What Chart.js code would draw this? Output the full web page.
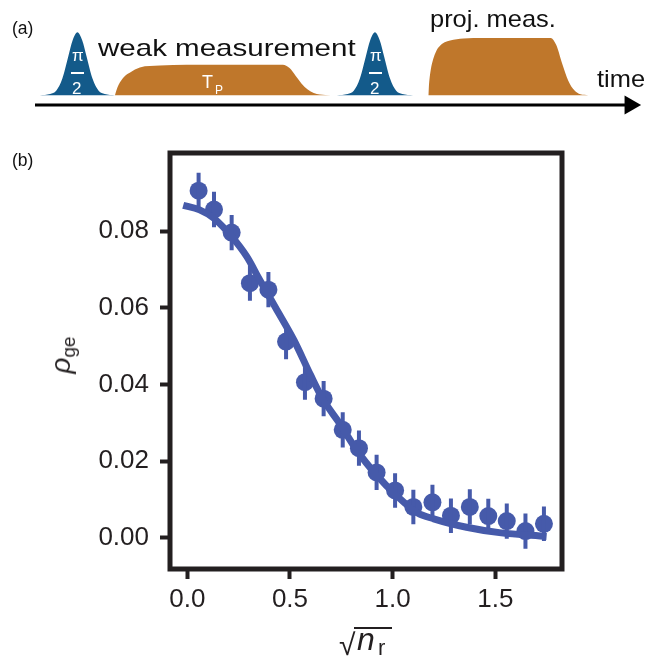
<!doctype html>
<html>
  <head>
    <meta charset="UTF-8">
    <title>rho_ge vs sqrt(n_r)</title>
    <script src="https://cdn.jsdelivr.net/npm/chart.js@4.4.1/dist/chart.umd.min.js"></script>
    <style>
      body { margin: 0; background: #fff; }
      #wrap { position: relative; width: 653px; height: 661px; font-family: "Liberation Sans", Arial, sans-serif; color: #231f20; }
      #boxA { position: absolute; left: 0; top: 0; width: 653px; height: 125px; }
      #boxB { position: absolute; left: 0; top: 125px; width: 653px; height: 536px; }
      .txt { position: absolute; white-space: nowrap; line-height: 1; }
      .big { font-size: 24px; transform-origin: left center; color: #111; }
      .pl { font-size: 17.5px; color: #111; }
      .wh { color: #fff; font-size: 17px; }
      .bar { position: absolute; background: #fff; height: 2px; width: 13px; }
    </style>
  </head>
  <body>
    <div id="wrap">
      <div id="boxA"><canvas id="seqChart"></canvas></div>
      <div id="boxB"><canvas id="rhoChart"></canvas></div>

      <div class="txt pl" style="left:12px; top:20px;">(a)</div>
      <div class="txt pl" style="left:12px; top:152px;">(b)</div>

      <div class="txt big" style="left:98px; top:36px; transform: scaleX(1.23);">weak measurement</div>
      <div class="txt big" style="left:430px; top:7px; transform: scaleX(1.06);">proj. meas.</div>
      <div class="txt big" style="left:597px; top:67px; transform: scaleX(1.06);">time</div>

      <!-- pi/2 on the two qubit pulses -->
      <div class="txt wh" style="left:72px; top:47px;">π</div>
      <div class="bar" style="left:71px; top:72px;"></div>
      <div class="txt wh" style="left:72px; top:80px;">2</div>
      <div class="txt wh" style="left:370px; top:47px;">π</div>
      <div class="bar" style="left:369px; top:72px;"></div>
      <div class="txt wh" style="left:370px; top:80px;">2</div>

      <div class="txt wh" style="left:202px; top:73px; font-size:18px;">T<span style="font-size:12px; position:relative; top:6px; left:2px;">P</span></div>

      <!-- axis titles -->
      <div class="txt" id="ylab" style="left:61px; top:355px; transform: translate(-50%,-50%) rotate(-90deg); font-size:28px;">
        <i>ρ</i><span style="font-size:19px; position:relative; top:5px;">ge</span>
      </div>
      <div class="txt" style="left:339px; top:629.5px; font-size:30px;">√</div>
      <div style="position:absolute; left:354px; top:626.5px; width:38px; height:2px; background:#231f20;"></div>
      <div class="txt" style="left:357px; top:623px; font-size:32px;"><i>n</i></div>
      <div class="txt" style="left:378px; top:636.5px; font-size:22px;">r</div>
    </div>

    <script>
      // ---- panel (b) data ----
      var xVals = [0.055, 0.130, 0.216, 0.305, 0.395, 0.481, 0.573, 0.664, 0.757, 0.836, 0.922, 1.012, 1.101, 1.194, 1.284, 1.376, 1.466, 1.556, 1.647, 1.737];
      var yVals = [0.0905, 0.0856, 0.0796, 0.0664, 0.0647, 0.0512, 0.0406, 0.0363, 0.0282, 0.0234, 0.0171, 0.0124, 0.0081, 0.0093, 0.0058, 0.0081, 0.0057, 0.0044, 0.0018, 0.0037];
      var yErr  = [0.0047, 0.0046, 0.0046, 0.0046, 0.0046, 0.0046, 0.0046, 0.0046, 0.0046, 0.0046, 0.0046, 0.0045, 0.0045, 0.0046, 0.0045, 0.0046, 0.0045, 0.0046, 0.0046, 0.0045];
      // fit curve
      var fitX = [-0.02, 0.06, 0.13, 0.22, 0.29, 0.35, 0.43, 0.52, 0.60, 0.66, 0.74, 0.83, 0.92, 1.02, 1.12, 1.20, 1.36, 1.52, 1.75];
      var fitY = [0.0867, 0.0855, 0.0833, 0.0783, 0.0733, 0.0675, 0.0600, 0.0515, 0.0425, 0.0362, 0.0300, 0.0225, 0.0165, 0.0110, 0.0066, 0.0050, 0.0028, 0.0014, 0.0004];
      var xTicks = [0, 0.5, 1.0, 1.5];
      var yTicks = [0, 0.02, 0.04, 0.06, 0.08];

      // ---- panel (a) pulse sequence (time in arb. units, amplitude 0..1) ----
      var piPulse1T = [0.08, 0.25, 0.35, 0.45, 0.55, 0.62, 0.70, 0.78, 0.85, 0.95, 1.05, 1.15, 1.32];
      var piPulse1A = [0, 0.02, 0.07, 0.26, 0.62, 0.87, 1.0, 0.87, 0.62, 0.26, 0.07, 0.02, 0];
      var piPulse2T = [4.98, 5.16, 5.26, 5.36, 5.46, 5.53, 5.61, 5.69, 5.76, 5.86, 5.96, 6.06, 6.24];
      var piPulse2A = [0, 0.02, 0.07, 0.26, 0.62, 0.87, 1.0, 0.87, 0.62, 0.26, 0.07, 0.02, 0];
      var weakT = [1.32, 1.36, 1.40, 1.48, 1.57, 1.73, 2.06, 2.5, 4.09, 4.2, 4.3, 4.35, 4.4, 4.5, 4.6, 4.7, 4.88];
      var weakA = [0, 0.12, 0.20, 0.30, 0.36, 0.44, 0.47, 0.485, 0.485, 0.43, 0.31, 0.245, 0.18, 0.088, 0.034, 0.011, 0];
      var projT = [6.49, 6.50, 6.53, 6.57, 6.62, 6.68, 6.76, 6.85, 7.07, 7.4, 8.51, 8.6, 8.7, 8.8, 8.9, 9.0, 9.13];
      var projA = [0, 0.15, 0.40, 0.57, 0.70, 0.78, 0.84, 0.87, 0.90, 0.91, 0.91, 0.80, 0.50, 0.23, 0.076, 0.013, 0];
      var arrowT = [0, 9.82];
      var arrowLevel = -0.158;

      var ink = '#231f20';
      var dotBlue = '#465aaa';
      var qubitBlue = '#135a8a';
      var cavOrange = '#bf772b';

      function pts(xs, ys) {
        return xs.map(function(x, i){ return {x: x, y: ys[i]}; });
      }

      // ---- pulse sequence chart ----
      function pulse(xs, ys, color) {
        return {
          data: pts(xs, ys),
          showLine: true,
          fill: 'origin',
          backgroundColor: color,
          borderColor: 'rgba(0,0,0,0)',
          borderWidth: 0,
          pointRadius: 0,
          tension: 0.4,
          cubicInterpolationMode: 'monotone'
        };
      }

      new Chart(document.getElementById('seqChart'), {
        type: 'scatter',
        data: {
          datasets: [
            pulse(piPulse1T, piPulse1A, qubitBlue),
            pulse(weakT, weakA, cavOrange),
            pulse(piPulse2T, piPulse2A, qubitBlue),
            pulse(projT, projA, cavOrange),
            {
              data: arrowT.map(function(t){ return {x: t, y: arrowLevel}; }),
              showLine: true,
              borderColor: '#000',
              borderWidth: 3,
              pointRadius: [0, 11],
              pointStyle: 'triangle',
              rotation: [0, 90],
              pointBackgroundColor: '#000',
              pointBorderWidth: 0,
              clip: false
            }
          ]
        },
        options: {
          responsive: true,
          maintainAspectRatio: false,
          animation: false,
          layout: { padding: { left: 35, right: 12, top: 26, bottom: 10 } },
          scales: {
            x: { type: 'linear', display: false, min: 0, max: 10 },
            y: { type: 'linear', display: false, min: -0.3, max: 1.1 }
          },
          plugins: { legend: { display: false }, tooltip: { enabled: false } }
        }
      });

      // ---- rho_ge chart ----
      var errData = [];
      xVals.forEach(function(x, i){
        errData.push({x: x, y: yVals[i] - yErr[i]});
        errData.push({x: x, y: yVals[i] + yErr[i]});
        errData.push({x: x, y: null});
      });

      var framePlugin = {
        id: 'frame',
        afterDraw: function(chart) {
          var a = chart.chartArea, ctx = chart.ctx;
          ctx.save();
          ctx.strokeStyle = ink;
          ctx.lineWidth = 5;
          ctx.lineJoin = 'miter';
          ctx.strokeRect(a.left, a.top, a.right - a.left, a.bottom - a.top);
          ctx.restore();
        }
      };

      var tickFont = { family: '"Liberation Sans", Arial, sans-serif', size: 26 };

      new Chart(document.getElementById('rhoChart'), {
        type: 'scatter',
        data: {
          datasets: [
            {
              data: pts(fitX, fitY),
              showLine: true,
              borderColor: dotBlue,
              borderWidth: 7,
              pointRadius: 0,
              tension: 0.4,
              cubicInterpolationMode: 'monotone'
            },
            {
              data: errData,
              showLine: true,
              spanGaps: false,
              borderColor: dotBlue,
              borderWidth: 4,
              borderCapStyle: 'butt',
              pointRadius: 0
            },
            {
              data: pts(xVals, yVals),
              pointRadius: 9,
              pointBackgroundColor: dotBlue,
              pointBorderWidth: 0
            }
          ]
        },
        options: {
          responsive: true,
          maintainAspectRatio: false,
          animation: false,
          layout: { padding: { left: 0, right: 91, top: 28, bottom: 0 } },
          scales: {
            x: {
              type: 'linear',
              min: -0.0843,
              max: 1.825,
              afterBuildTicks: function(scale){ scale.ticks = xTicks.map(function(v){ return {value: v}; }); },
              afterFit: function(scale){ scale.height = 92; },
              ticks: {
                font: tickFont, color: ink, padding: 5,
                callback: function(v){ return v.toFixed(1); }
              },
              grid: { display: true, drawOnChartArea: false, tickLength: 10, tickWidth: 4, tickColor: ink },
              border: { display: false }
            },
            y: {
              type: 'linear',
              min: -0.00808,
              max: 0.10033,
              afterBuildTicks: function(scale){ scale.ticks = yTicks.map(function(v){ return {value: v}; }); },
              afterFit: function(scale){ scale.width = 170; },
              ticks: {
                font: tickFont, color: ink, padding: 11,
                callback: function(v){ return v.toFixed(2); }
              },
              grid: { display: true, drawOnChartArea: false, tickLength: 10, tickWidth: 4, tickColor: ink },
              border: { display: false }
            }
          },
          plugins: { legend: { display: false }, tooltip: { enabled: false } }
        },
        plugins: [framePlugin]
      });
    </script>
  </body>
</html>
